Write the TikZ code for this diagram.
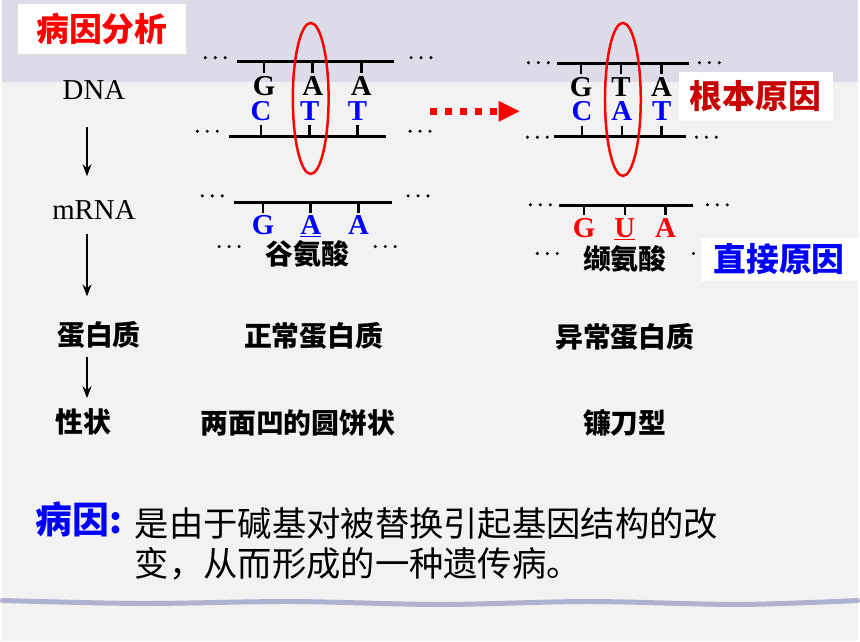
\documentclass[tikz,border=0pt]{standalone}
\usepackage{fontspec}
\setmainfont{Liberation Serif}
\newfontfamily\cjk{Noto Sans CJK SC}
\usetikzlibrary{arrows.meta}

\definecolor{paper}{HTML}{F2F2F2}
\definecolor{bandtop}{HTML}{DCDCE9}
\definecolor{wavecol}{HTML}{B0B0D0}
\definecolor{deepred}{HTML}{C80000}
\definecolor{pureblue}{HTML}{0000FF}

\tikzset{
    threedots/.pic={\foreach \d in {-10,0,10} \fill (\d,0) circle (1.7);}
}

\begin{document}
\begin{tikzpicture}[x=1pt,y=-1pt,
        strand/.style={line width=3pt},
        rung/.style={line width=2.5pt},
        base/.style={font=\fontsize{29}{29}\selectfont\bfseries,inner sep=0pt,anchor=base},
        side/.style={font=\fontsize{29}{29}\selectfont,inner sep=0pt},
        term/.style={font=\fontsize{28}{30}\selectfont\cjk\bfseries,inner sep=0pt},
        tag/.style={fill=white,font=\fontsize{33}{33}\selectfont\cjk\bfseries,inner sep=0pt},
        flow/.style={-{Stealth[length=12pt,width=9pt]},line width=1.8pt},
        ring/.style={red,line width=2.5pt}]

        % background
        \fill[paper] (0,0) rectangle (860,645);
        \fill[bandtop] (0,0) rectangle (860,82);
        \draw[wavecol,line width=5pt,line cap=round] plot[smooth] coordinates
            {(0,604) (140,607) (290,605) (440,608) (590,605) (740,608) (860,604)};

        \node[fill=white,draw=gray!25,minimum width=170pt,minimum height=52pt,
            inner sep=0pt,text=red,font=\fontsize{33}{33}\selectfont\cjk\bfseries]
            (title) at (100,29) {病因分析};

        % left column
        \node[side] (dna) at (92,91) {DNA};
        \node[side] (mrna) at (92,211) {mRNA};
        \node[term] (prot) at (97,337) {蛋白质};
        \node[term] (trait) at (81,424) {性状};
        \coordinate (axis) at (85,0);
        \draw[flow,shorten <=27pt,shorten >=24pt] (dna.south -| axis) -- (mrna.north -| axis);
        \draw[flow,shorten <=15pt,shorten >=25pt] (mrna.south -| axis) -- (prot.north -| axis);
        \draw[flow,shorten <=8pt,shorten >=10pt] (prot.south -| axis) -- (trait.north -| axis);

        % normal DNA
        \draw[strand] (236,62) -- (394,62);
        \draw[strand] (228,137) -- (386,137);
        \foreach \i/\x/\b in {1/263/G,2/312/A,3/361/A}{
            \draw[rung] (\x,62) -- (\x,73);
            \node[base] (wt-top-\i) at (\x,96) {\b};
        }
        \foreach \i/\x/\b in {1/260/C,2/309/T,3/357/T}{
            \draw[rung] (\x,137) -- (\x,126);
            \node[base,text=pureblue] (wt-bot-\i) at (\x,121) {\b};
        }
        \pic at (214,58) {threedots};
        \pic at (421,58) {threedots};
        \pic at (206,132) {threedots};
        \pic at (420,132) {threedots};
        \draw[ring] (310,99) ellipse [x radius=18,y radius=76];

        % normal mRNA
        \draw[strand] (233,204) -- (392,204);
        \foreach \i/\x/\b in {1/262/G,2/310/\underline{A},3/358/A}{
            \draw[rung] (\x,204) -- (\x,214);
            \node[base,text=pureblue] (wt-rna-\i) at (\x,236) {\b};
        }
        \pic at (211,197) {threedots};
        \pic at (418,197) {threedots};
        \pic at (228,248) {threedots};
        \pic at (385,248) {threedots};
        \node[term] (glu) at (307,255) {谷氨酸};

        % mutation arrow
        \coordinate (mutS) at (430,112);
        \coordinate (mutE) at (520,112);
        \draw[red,line width=7pt,dash pattern=on 7pt off 8pt,
            -{Triangle[length=21pt,width=21pt,line width=0pt]}] (mutS) -- (mutE);

        % mutant DNA
        \draw[strand] (558,64) -- (690,64);
        \draw[strand] (555,137) -- (687,137);
        \foreach \i/\x/\b in {1/582/G,2/622/T,3/663/A}{
            \draw[rung] (\x,64) -- (\x,74);
            \node[base] (mt-top-\i) at (\x,97) {\b};
        }
        \foreach \i/\x/\b in {1/583/C,2/623/A,3/663/T}{
            \draw[rung] (\x,137) -- (\x,127);
            \node[base,text=pureblue] (mt-bot-\i) at (\x,121) {\b};
        }
        \pic at (539,63) {threedots};
        \pic at (711,63) {threedots};
        \pic at (538,138) {threedots};
        \pic at (708,138) {threedots};
        \draw[ring] (624,100) ellipse [x radius=18,y radius=77];
        \node[tag,text=deepred,minimum width=155pt,minimum height=50pt] (root) at (757.5,97) {根本原因};

        % mutant mRNA
        \draw[strand] (560,207) -- (695,207);
        \foreach \i/\x/\b in {1/585/G,2/626/\underline{U},3/667/A}{
            \draw[rung] (\x,207) -- (\x,216);
            \node[base,text=red] (mt-rna-\i) at (\x,239) {\b};
        }
        \pic at (541,206) {threedots};
        \pic at (719,206) {threedots};
        \pic at (548,255) {threedots};
        \pic at (705,255) {threedots};
        \node[term] (val) at (626,260) {缬氨酸};
        \node[tag,text=pureblue,minimum width=158pt,minimum height=44pt,anchor=west]
            (direct) at (702,261) {直接原因};

        % protein and trait
        \node[term] (normprot) at (313,338) {正常蛋白质};
        \node[term] (mutprot) at (626,339) {异常蛋白质};
        \node[term] (normshape) at (297,425) {两面凹的圆饼状};
        \node[term] (mutshape) at (626,425) {镰刀型};

        % cause
        \node[anchor=west,inner sep=0pt,text=pureblue,font=\fontsize{37}{37}\selectfont\cjk\bfseries]
            (cause) at (33,522) {病因:};
        \node[anchor=west,inner sep=0pt,align=left,font=\fontsize{34.5}{40}\selectfont\cjk]
            (causetext) at (133,547) {是由于碱基对被替换引起基因结构的改\\变，从而形成的一种遗传病。};
    \end{tikzpicture}
\end{document}
